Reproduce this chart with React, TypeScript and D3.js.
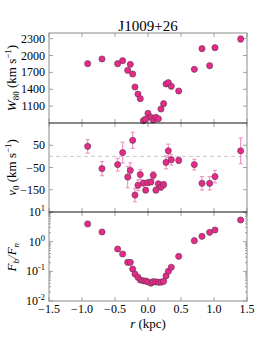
import {scaleLinear, scaleLog} from "d3";

// radial offsets along the slit (kpc)
const radius = [-0.914, -0.697, -0.46, -0.384, -0.308, -0.268, -0.232, -0.197, -0.152, -0.117, -0.07, -0.035, 0.0, 0.045,
    0.08, 0.12, 0.157, 0.197, 0.237, 0.273, 0.308, 0.353, 0.465, 0.702, 0.818, 0.934, 1.015, 1.404];
const w80 = [1854, 1938, 1854, 1908, 1737, 1843, 1671, 1440, 1315, 1232, 841, 870, 972, 901,
    853, 901, 876, 1049, 1144, 1493, 1517, 1452, 1369, 1755, 2121, 1819, 2139, 2293];
const w80Err = [15, 15, 15, 15, 15, 15, 15, 15, 15, 15, 10, 10, 10, 10,
    10, 10, 10, 10, 10, 15, 15, 15, 15, 15, 15, 15, 15, 55];
const v0 = [45, -55, -37, 17, -93, -63, 72, -174, -130, -82, -120, -152, -118, -115,
    -85, -152, -124, -138, -127, -27, 25, -15, -18, -37, -121, -121, -91, 25];
const v0Err = [30, 32, 29, 47, 48, 34, 36, 30, 24, 22, 12, 10, 10, 12,
    16, 10, 12, 14, 14, 29, 30, 24, 14, 24, 30, 30, 28, 58];
const fluxRatio = [3.95, 2.12, 0.566, 0.384, 0.201, 0.201, 0.12, 0.081, 0.063, 0.051, 0.048, 0.047, 0.044, 0.040,
    0.045, 0.044, 0.043, 0.043, 0.046, 0.070, 0.10, 0.137, 0.32, 1.08, 1.51, 2.07, 2.47, 5.37];

const xTicks = [-1.5, -1.0, -0.5, 0.0, 0.5, 1.0, 1.5];
const wTicks = [1100, 1400, 1700, 2000, 2300];
const vTicks = [50, -50, -150];
const fTicks = [10, 1, 0.1, 0.01];
const fTickLabels = ["1", "0", "-1", "-2"];

const LEFT = 49, RIGHT = 247;
const FONT = "'Liberation Serif', 'DejaVu Serif', serif";
const MARKER = "#e7298a";
const ERRCOL = "#f28cc4";
const FRAME = "#8c8c8c";

const fmt = (v: number) => (v < 0 ? "\u2212" : "") + Math.abs(v).toString();

function Markers(props: {ys: number[]; errs?: number[]; y: (v: number) => number; x: (v: number) => number}) {
    const {ys, errs, y, x} = props;
    return <g>
        {errs && ys.map((v, i) => {
            const cx = x(radius[i]);
            const y0 = y(v - errs[i]), y1 = y(v + errs[i]);
            return <g key={`e${i}`} stroke={ERRCOL} strokeWidth={1.1}>
                <line x1={cx} x2={cx} y1={y0} y2={y1}/>
                <line x1={cx - 2} x2={cx + 2} y1={y0} y2={y0}/>
                <line x1={cx - 2} x2={cx + 2} y1={y1} y2={y1}/>
            </g>;
        })}
        {ys.map((v, i) => (
            <circle key={i} cx={x(radius[i])} cy={y(v)} r={3.1} fill={MARKER} stroke="#5a3a4a" strokeWidth={0.6}/>
        ))}
    </g>;
}

function XTicks(props: {x: (v: number) => number; top: number; bottom: number}) {
    return <g stroke={FRAME} strokeWidth={0.8}>
        {xTicks.map(t => (
            <g key={t}>
                <line x1={props.x(t)} x2={props.x(t)} y1={props.top} y2={props.top + 4}/>
                <line x1={props.x(t)} x2={props.x(t)} y1={props.bottom} y2={props.bottom - 4}/>
            </g>
        ))}
    </g>;
}

function YTicks(props: {pos: number[]; len?: number}) {
    const len = props.len ?? 4;
    return <g stroke={FRAME} strokeWidth={0.8}>
        {props.pos.map((p, i) => (
            <g key={i}>
                <line x1={LEFT} x2={LEFT + len} y1={p} y2={p}/>
                <line x1={RIGHT} x2={RIGHT - len} y1={p} y2={p}/>
            </g>
        ))}
    </g>;
}

export default function App() {
    const x = scaleLinear().domain([-1.5, 1.5]).range([LEFT, RIGHT]);
    const yW = scaleLinear().domain([800, 2400]).range([123, 33]);
    const yV = scaleLinear().domain([-250, 150]).range([212, 123]);
    const yF = scaleLog().domain([0.01, 10]).range([301, 212]);

    const minorF: number[] = [];
    [0.01, 0.1, 1].forEach(d => {
        for (let k = 2; k <= 9; k++) minorF.push(d * k);
    });

    return <svg width={258} height={343} style={{position: "absolute", left: 0, top: 0, background: "#fff"}}
                fontFamily={FONT}>
        {/* title */}
        <text x={148} y={30.5} textAnchor="middle" fontSize={15}>J1009+26</text>

        {/* top panel: W80 */}
        <XTicks x={x} top={33} bottom={123}/>
        <YTicks pos={wTicks.map(yW)}/>
        <Markers ys={w80} errs={w80Err} y={yW} x={x}/>
        {wTicks.map(t => (
            <text key={t} x={45} y={yW(t) + 4} textAnchor="end" fontSize={12}>{t}</text>
        ))}
        <text transform={`translate(16,${yW(1600)}) rotate(-90)`} textAnchor="middle" fontSize={13}>
            <tspan fontStyle="italic">W</tspan>
            <tspan fontSize={9} dy={3}>80</tspan>
            <tspan dy={-3}> (km s</tspan>
            <tspan fontSize={9} dy={-5}>{"\u22121"}</tspan>
            <tspan dy={5}>)</tspan>
        </text>

        {/* middle panel: v0 */}
        <line x1={LEFT} x2={RIGHT} y1={yV(0)} y2={yV(0)} stroke="#c8c8c8" strokeWidth={1} strokeDasharray="4,3"/>
        <XTicks x={x} top={123} bottom={212}/>
        <YTicks pos={vTicks.map(yV)}/>
        <Markers ys={v0} errs={v0Err} y={yV} x={x}/>
        {vTicks.map(t => (
            <text key={t} x={45} y={yV(t) + 4} textAnchor="end" fontSize={12}>{fmt(t)}</text>
        ))}
        <text transform={`translate(16,${yV(-50)}) rotate(-90)`} textAnchor="middle" fontSize={13}>
            <tspan fontStyle="italic">v</tspan>
            <tspan fontSize={9} dy={3}>0</tspan>
            <tspan dy={-3}> (km s</tspan>
            <tspan fontSize={9} dy={-5}>{"\u22121"}</tspan>
            <tspan dy={5}>)</tspan>
        </text>

        {/* bottom panel: flux ratio */}
        <XTicks x={x} top={212} bottom={301}/>
        <YTicks pos={fTicks.map(yF)}/>
        <YTicks pos={minorF.map(yF)} len={2}/>
        <Markers ys={fluxRatio} y={yF} x={x}/>
        {fTicks.map((t, i) => (
            <text key={t} x={45} y={yF(t) + 4} textAnchor="end" fontSize={12}>
                10<tspan fontSize={8.5} dy={-5}>{fTickLabels[i]}</tspan>
            </text>
        ))}
        <text transform={`translate(16,${yF(0.3)}) rotate(-90)`} textAnchor="middle" fontSize={13}>
            <tspan fontStyle="italic">F</tspan>
            <tspan fontSize={9} dy={3} fontStyle="italic">b</tspan>
            <tspan dy={-3} fontStyle="italic">/F</tspan>
            <tspan fontSize={9} dy={3} fontStyle="italic">n</tspan>
        </text>

        {/* x tick labels and label */}
        {xTicks.map(t => (
            <text key={t} x={x(t)} y={313} textAnchor="middle" fontSize={12}>{fmt(t) + (Number.isInteger(t) ? ".0" : "")}</text>
        ))}
        <text x={148} y={328} textAnchor="middle" fontSize={13}>
            <tspan fontStyle="italic">r</tspan> (kpc)
        </text>

        {/* frames */}
        <rect x={LEFT} y={33} width={RIGHT - LEFT} height={268} fill="none" stroke={FRAME} strokeWidth={1}/>
        <line x1={LEFT} x2={RIGHT} y1={123} y2={123} stroke="#111" strokeWidth={1.2}/>
        <line x1={LEFT} x2={RIGHT} y1={212} y2={212} stroke="#111" strokeWidth={1.2}/>
    </svg>;
}
